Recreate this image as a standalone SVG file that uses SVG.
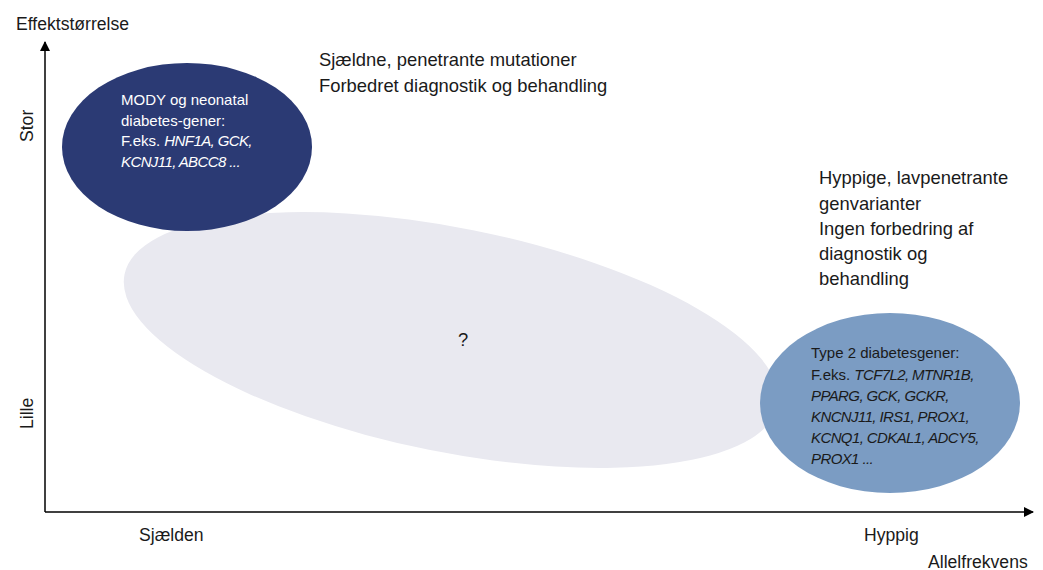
<svg xmlns="http://www.w3.org/2000/svg" width="1043" height="570" viewBox="0 0 1043 570">
<style>
text{font-family:"Liberation Sans",Arial,sans-serif;fill:#1a1a1a}
.lbl{font-size:18.4px}
.ax{font-size:17.6px}
.in{font-size:15px}
.inw{font-size:15px;fill:#ffffff}
.it{font-style:italic;letter-spacing:-0.6px}
.axis{stroke:#000;stroke-width:1.5;fill:none}
</style>
<defs>
<marker id="arr" viewBox="0 0 10 10" refX="9" refY="5" markerWidth="10" markerHeight="10" markerUnits="userSpaceOnUse" orient="auto">
<path d="M0,0 L10,5 L0,10 Z" fill="#000"/>
</marker>
</defs>
<g id="connectors">
<line class="axis" x1="45" y1="512" x2="45" y2="42" marker-end="url(#arr)"/>
<line class="axis" x1="45" y1="512" x2="1033" y2="512" marker-end="url(#arr)"/>
</g>
<g id="node-gray">
<ellipse cx="451" cy="340" rx="333" ry="112" transform="rotate(11.35 451 340)" fill="#e9e9f0"/>
<text class="lbl" x="458" y="346">?</text>
</g>
<g id="node-mody">
<ellipse cx="187" cy="147" rx="125" ry="84" fill="#2b3a74"/>
<text class="inw" x="121" y="105">MODY og neonatal</text>
<text class="inw" x="121" y="126">diabetes-gener:</text>
<text class="inw" x="121" y="146">F.eks. <tspan class="it">HNF1A, GCK,</tspan></text>
<text class="inw it" x="121" y="167">KCNJ11, ABCC8 ...</text>
</g>
<g id="node-t2d">
<ellipse cx="890" cy="403" rx="130" ry="90" fill="#7b9cc3"/>
<text class="in" x="811" y="358">Type 2 diabetesgener:</text>
<text class="in" x="811" y="380">F.eks. <tspan class="it">TCF7L2, MTNR1B,</tspan></text>
<text class="in it" x="811" y="401">PPARG, GCK, GCKR,</text>
<text class="in it" x="811" y="422">KNCNJ11, IRS1, PROX1,</text>
<text class="in it" x="811" y="443">KCNQ1, CDKAL1, ADCY5,</text>
<text class="in it" x="811" y="464">PROX1 ...</text>
</g>
<g id="label-rare">
<text class="lbl" x="319" y="66">Sjældne, penetrante mutationer</text>
<text class="lbl" x="319" y="92">Forbedret diagnostik og behandling</text>
</g>
<g id="label-common">
<text class="lbl" x="819" y="184">Hyppige, lavpenetrante</text>
<text class="lbl" x="819" y="210">genvarianter</text>
<text class="lbl" x="819" y="235">Ingen forbedring af</text>
<text class="lbl" x="819" y="260">diagnostik og</text>
<text class="lbl" x="819" y="285">behandling</text>
</g>
<g id="axis-labels">
<text class="ax" x="16" y="30">Effektstørrelse</text>
<text class="ax" transform="translate(33 142) rotate(-90)">Stor</text>
<text class="ax" transform="translate(33 429) rotate(-90)">Lille</text>
<text class="ax" x="139" y="541">Sjælden</text>
<text class="ax" x="864" y="541">Hyppig</text>
<text class="ax" x="928" y="568">Allelfrekvens</text>
</g>
</svg>
